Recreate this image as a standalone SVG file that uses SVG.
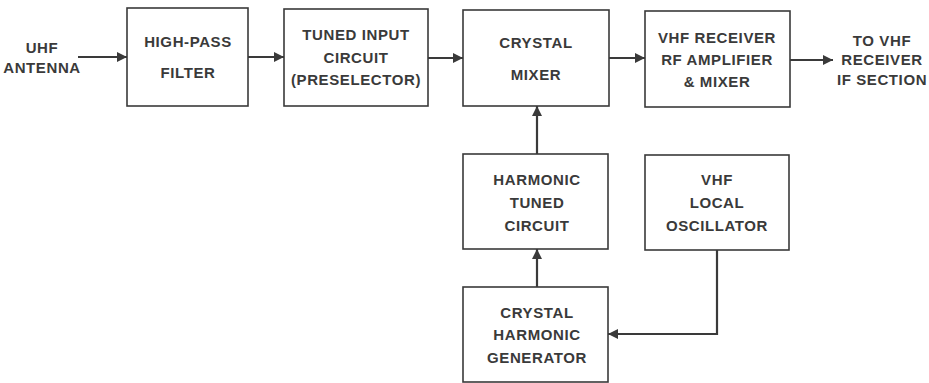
<svg xmlns="http://www.w3.org/2000/svg" width="929" height="383" viewBox="0 0 929 383">
<defs>
<marker id="ah" viewBox="0 0 10 10" refX="10" refY="5" markerWidth="14" markerHeight="10" markerUnits="userSpaceOnUse" orient="auto">
<path d="M0,0 L10,5 L0,10 z" fill="#3a3a3a"/>
</marker>
<style>
.box{fill:#fff;stroke:#3a3a3a;stroke-width:1.6}
.t{font-family:"Liberation Sans",Arial,sans-serif;font-weight:bold;font-size:15px;fill:#3a3a3a;text-anchor:middle;letter-spacing:0.6px}
.c{stroke:#3a3a3a;stroke-width:2.2;fill:none}
</style>
</defs>
<rect width="929" height="383" fill="#fff"/>
<g id="uhf-antenna">
<text class="t" x="42" y="53">UHF</text>
<text class="t" x="42" y="73">ANTENNA</text>
</g>
<g id="high-pass-filter">
<rect class="box" x="127" y="8" width="121" height="98"/>
<text class="t" x="188" y="47">HIGH-PASS</text>
<text class="t" x="188" y="78">FILTER</text>
</g>
<g id="tuned-input">
<rect class="box" x="284" y="9" width="144" height="97"/>
<text class="t" x="356" y="40">TUNED INPUT</text>
<text class="t" x="356" y="63">CIRCUIT</text>
<text class="t" x="356" y="85">(PRESELECTOR)</text>
</g>
<g id="crystal-mixer">
<rect class="box" x="463" y="10" width="146" height="96"/>
<text class="t" x="536" y="48">CRYSTAL</text>
<text class="t" x="536" y="80">MIXER</text>
</g>
<g id="vhf-receiver">
<rect class="box" x="645" y="11" width="145" height="96"/>
<text class="t" x="717" y="43">VHF RECEIVER</text>
<text class="t" x="717" y="65">RF AMPLIFIER</text>
<text class="t" x="717" y="87">&amp; MIXER</text>
</g>
<g id="to-vhf-if">
<text class="t" x="882" y="46">TO VHF</text>
<text class="t" x="882" y="65">RECEIVER</text>
<text class="t" x="882" y="85">IF SECTION</text>
</g>
<g id="harmonic-tuned">
<rect class="box" x="463" y="154" width="145" height="95"/>
<text class="t" x="537" y="185">HARMONIC</text>
<text class="t" x="537" y="208">TUNED</text>
<text class="t" x="537" y="231">CIRCUIT</text>
</g>
<g id="vhf-local-osc">
<rect class="box" x="645" y="155" width="144" height="95"/>
<text class="t" x="717" y="185">VHF</text>
<text class="t" x="717" y="208">LOCAL</text>
<text class="t" x="717" y="231">OSCILLATOR</text>
</g>
<g id="crystal-harmonic-gen">
<rect class="box" x="463" y="287" width="145" height="95"/>
<text class="t" x="537" y="318">CRYSTAL</text>
<text class="t" x="537" y="340">HARMONIC</text>
<text class="t" x="537" y="363">GENERATOR</text>
</g>
<g id="connectors">
<line class="c" x1="78" y1="57" x2="127" y2="57" marker-end="url(#ah)"/>
<line class="c" x1="248" y1="57" x2="284" y2="57" marker-end="url(#ah)"/>
<line class="c" x1="428" y1="58" x2="463" y2="58" marker-end="url(#ah)"/>
<line class="c" x1="609" y1="58" x2="645" y2="58" marker-end="url(#ah)"/>
<line class="c" x1="790" y1="60" x2="833" y2="60" marker-end="url(#ah)"/>
<line class="c" x1="537" y1="154" x2="537" y2="106" marker-end="url(#ah)"/>
<line class="c" x1="537" y1="287" x2="537" y2="249" marker-end="url(#ah)"/>
<path class="c" d="M717,250 V334 H608" marker-end="url(#ah)"/>
</g>
</svg>
